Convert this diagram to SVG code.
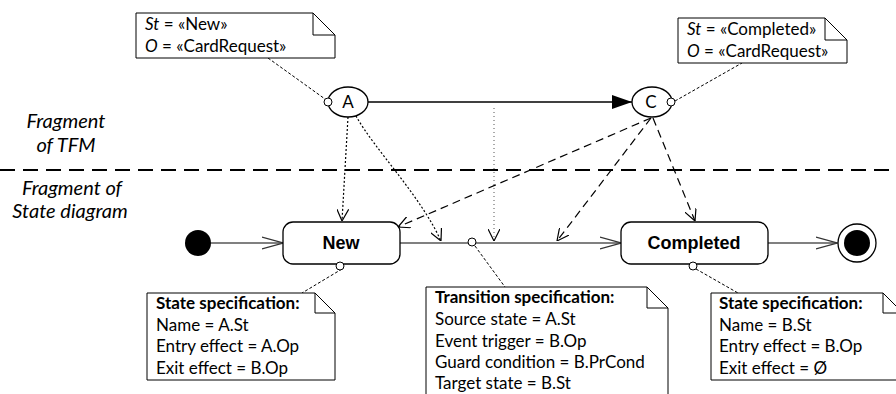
<svg xmlns="http://www.w3.org/2000/svg" width="896" height="394" viewBox="0 0 896 394">
<defs>
<style>
.note{fill:#fff;stroke:#000;stroke-width:1}
.fold{fill:none;stroke:#000;stroke-width:1}
.t{font-family:Lato,"Open Sans",sans-serif;font-size:17px;fill:#000}
.b{font-weight:bold}
.i{font-style:italic}
.frag{font-family:Lato,"Open Sans",sans-serif;font-size:20px;font-style:italic;fill:#000;text-anchor:middle}
.st{font-family:"Liberation Sans",Arial,sans-serif;font-weight:bold;font-size:18px;text-anchor:middle;fill:#000}
.lbl{font-family:Lato,"Open Sans",sans-serif;font-size:17px;text-anchor:middle;fill:#000}
.box{fill:#fff;stroke:#000;stroke-width:1.3}
.tr{stroke:#808080;stroke-width:2;fill:none}
.dot{stroke:#000;stroke-width:1.2;stroke-dasharray:2 2;fill:none}
.ldot{stroke:#555;stroke-width:1;stroke-dasharray:1 3;fill:none}
.dash{stroke:#000;stroke-width:1.2;stroke-dasharray:8 5;fill:none}
.link{stroke:#000;stroke-width:1;stroke-dasharray:3 2;fill:none}
.port{fill:#fff;stroke:#000;stroke-width:1}
</style>
<marker id="open" viewBox="0 0 12 12" refX="12" refY="6" markerWidth="12" markerHeight="12" markerUnits="userSpaceOnUse" orient="auto">
<path d="M0,0 L12,6 L0,12" fill="none" stroke="#000" stroke-width="1.2"/>
</marker>
<marker id="topen" viewBox="0 0 22 14" refX="21" refY="7" markerWidth="22" markerHeight="14" markerUnits="userSpaceOnUse" orient="auto">
<path d="M0,1 L21,7 L0,13" fill="none" stroke="#333" stroke-width="1.3"/>
</marker>
<marker id="fill" viewBox="0 0 20 14" refX="20" refY="7" markerWidth="20" markerHeight="14" markerUnits="userSpaceOnUse" orient="auto">
<path d="M0,0 L20,7 L0,14 Z" fill="#000"/>
</marker>
</defs>
<rect width="896" height="394" fill="#fff"/>

<g id="labels">
<text class="frag" x="66" y="128">Fragment</text>
<text class="frag" x="66" y="152">of TFM</text>
<text class="frag" x="72" y="195">Fragment of</text>
<text class="frag" x="70" y="218">State diagram</text>
</g>
<path id="divider" d="M0,170 H896" stroke="#000" stroke-width="2" stroke-dasharray="15 8"/>

<g id="connectors">
<path class="link" d="M268,58 L325,99"/>
<path class="link" d="M675,101 L742,63"/>
<path d="M368,102 H632" stroke="#000" stroke-width="1.3" marker-end="url(#fill)"/>
<path class="dot" d="M348,117 L342,221" marker-end="url(#open)"/>
<path class="dot" d="M356,116 C375,150 420,195 441,241" marker-end="url(#open)"/>
<path class="ldot" d="M494,108 V241" marker-end="url(#open)"/>
<path class="dash" d="M651,118 L398,227" marker-end="url(#open)"/>
<path class="dash" d="M651,118 L557,241" marker-end="url(#open)"/>
<path class="dash" d="M653,118 L695,221" marker-end="url(#open)"/>
<path class="tr" d="M211,243 H283" marker-end="url(#topen)"/>
<path class="tr" d="M400,243 H621" marker-end="url(#topen)"/>
<path class="tr" d="M768,243 H837" marker-end="url(#topen)"/>
<path class="link" d="M342,269 L302,293"/>
<path class="link" d="M475,246 L505,287"/>
<path class="link" d="M696,269 L738,293"/>
</g>

<g id="noteA">
<path class="note" d="M136,13 H313 L335,35 V58 H136 Z"/>
<path class="fold" d="M313,13 V35 H335"/>
<text class="t" x="145" y="30"><tspan class="i">St</tspan> = «New»</text>
<text class="t" x="145" y="52"><tspan class="i">O</tspan> = «CardRequest»</text>
</g>
<g id="noteC">
<path class="note" d="M678,18 H825 L847,40 V63 H678 Z"/>
<path class="fold" d="M825,18 V40 H847"/>
<text class="t" x="687" y="35"><tspan class="i">St</tspan> = «Completed»</text>
<text class="t" x="687" y="57"><tspan class="i">O</tspan> = «CardRequest»</text>
</g>
<g id="A">
<ellipse class="box" cx="348" cy="102" rx="20" ry="15"/>
<circle class="port" cx="328" cy="102" r="4"/>
<text class="lbl" x="348" y="108">A</text>
</g>
<g id="C">
<ellipse class="box" cx="652" cy="102" rx="20" ry="15"/>
<circle class="port" cx="671" cy="102" r="4"/>
<text class="lbl" x="651" y="108">C</text>
</g>

<g id="initial"><circle cx="198" cy="243" r="13" fill="#000"/></g>
<g id="New">
<rect class="box" x="283" y="222" width="117" height="42" rx="10"/>
<text class="st" x="341" y="249">New</text>
<circle class="port" cx="340" cy="266" r="4"/>
</g>
<g id="transition"><circle class="port" cx="472" cy="242" r="4"/></g>
<g id="Completed">
<rect class="box" x="621" y="222" width="147" height="42" rx="10"/>
<text class="st" x="694" y="249">Completed</text>
<circle class="port" cx="693" cy="266" r="4"/>
</g>
<g id="final">
<circle cx="857" cy="243" r="19" fill="#fff" stroke="#000" stroke-width="1.3"/>
<circle cx="857" cy="243" r="13" fill="#000"/>
</g>

<g id="noteNew">
<path class="note" d="M147,293 H315 L335,313 V380 H147 Z"/>
<path class="fold" d="M315,293 V313 H335"/>
<text class="t b" x="156" y="309">State specification:</text>
<text class="t" x="156" y="331">Name = A.St</text>
<text class="t" x="156" y="352">Entry effect = A.Op</text>
<text class="t" x="156" y="374">Exit effect = B.Op</text>
</g>
<g id="noteTransition">
<path class="note" d="M426,400 V287 H647 L668,308 V400"/>
<path class="fold" d="M647,287 V308 H668"/>
<text class="t b" x="435" y="303">Transition specification:</text>
<text class="t" x="435" y="325">Source state = A.St</text>
<text class="t" x="435" y="347">Event trigger = B.Op</text>
<text class="t" x="435" y="368">Guard condition = B.PrCond</text>
<text class="t" x="435" y="389">Target state = B.St</text>
</g>
<g id="noteCompleted">
<path class="note" d="M711,293 H883 L903,313 V380 H711 Z"/>
<path class="fold" d="M883,293 V313 H903"/>
<text class="t b" x="719" y="309">State specification:</text>
<text class="t" x="719" y="331">Name = B.St</text>
<text class="t" x="719" y="352">Entry effect = B.Op</text>
<text class="t" x="719" y="374">Exit effect = Ø</text>
</g>
</svg>
